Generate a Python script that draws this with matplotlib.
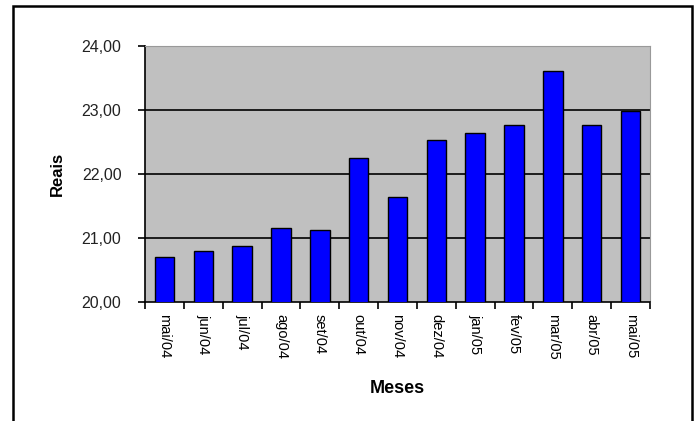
import matplotlib.pyplot as plt
from matplotlib.patches import Rectangle
import numpy as np

plt.rcParams['font.family'] = ['Liberation Sans', 'DejaVu Sans']

# data
meses = ['mai/04', 'jun/04', 'jul/04', 'ago/04', 'set/04', 'out/04', 'nov/04',
         'dez/04', 'jan/05', 'fev/05', 'mar/05', 'abr/05', 'mai/05']
reais = [20.70, 20.79, 20.88, 21.16, 21.13, 22.25, 21.64,
         22.53, 22.64, 22.77, 23.61, 22.77, 22.98]
y_ticks = [20, 21, 22, 23, 24]
y_labels = ['20,00', '21,00', '22,00', '23,00', '24,00']

fig = plt.figure(figsize=(6.98, 4.21), dpi=100)
ax = fig.add_axes([145 / 698, 1 - 302 / 421, 505 / 698, 256 / 421])

x = np.arange(len(meses))
ax.bar(x, reais, width=0.5, color='#0000ff', edgecolor='black', linewidth=1.0,
       zorder=3)
ax.set_facecolor('#c0c0c0')
ax.set_xlim(-0.5, len(meses) - 0.5)
ax.set_ylim(20, 24)

# gridlines like excel
for yv in y_ticks[1:-1]:
    ax.axhline(yv, color='black', linewidth=1.2, zorder=2)

ax.set_yticks(y_ticks)
ax.set_yticklabels(y_labels, fontsize=11.5, color='#222222')
ax.tick_params(axis='y', direction='out', length=5, width=1.2, pad=12)

# tick marks between categories, labels at centers
ax.set_xticks(np.arange(-0.5, len(meses), 1))
ax.set_xticklabels([])
ax.tick_params(axis='x', which='major', direction='out', length=5, width=1.2)
ax.set_xticks(x, minor=True)
ax.set_xticklabels(meses, minor=True, rotation=-90, fontsize=10.5)
ax.tick_params(axis='x', which='minor', length=0, pad=9)

for side in ['top', 'right']:
    ax.spines[side].set_color('#999999')
    ax.spines[side].set_linewidth(0.8)
for side in ['left', 'bottom']:
    ax.spines[side].set_linewidth(1.2)

ax.set_xlabel('Meses', fontsize=13, fontweight='bold', labelpad=14)
ax.set_ylabel('Reais', fontsize=12, fontweight='bold', labelpad=12)

# outer chart frame
fig.patches.append(Rectangle((13 / 698, -0.05), (692 - 13) / 698, 1.05 - 6 / 421,
                             transform=fig.transFigure, fill=False,
                             edgecolor='black', linewidth=1.8))

fig.savefig('out.png', dpi=100)
